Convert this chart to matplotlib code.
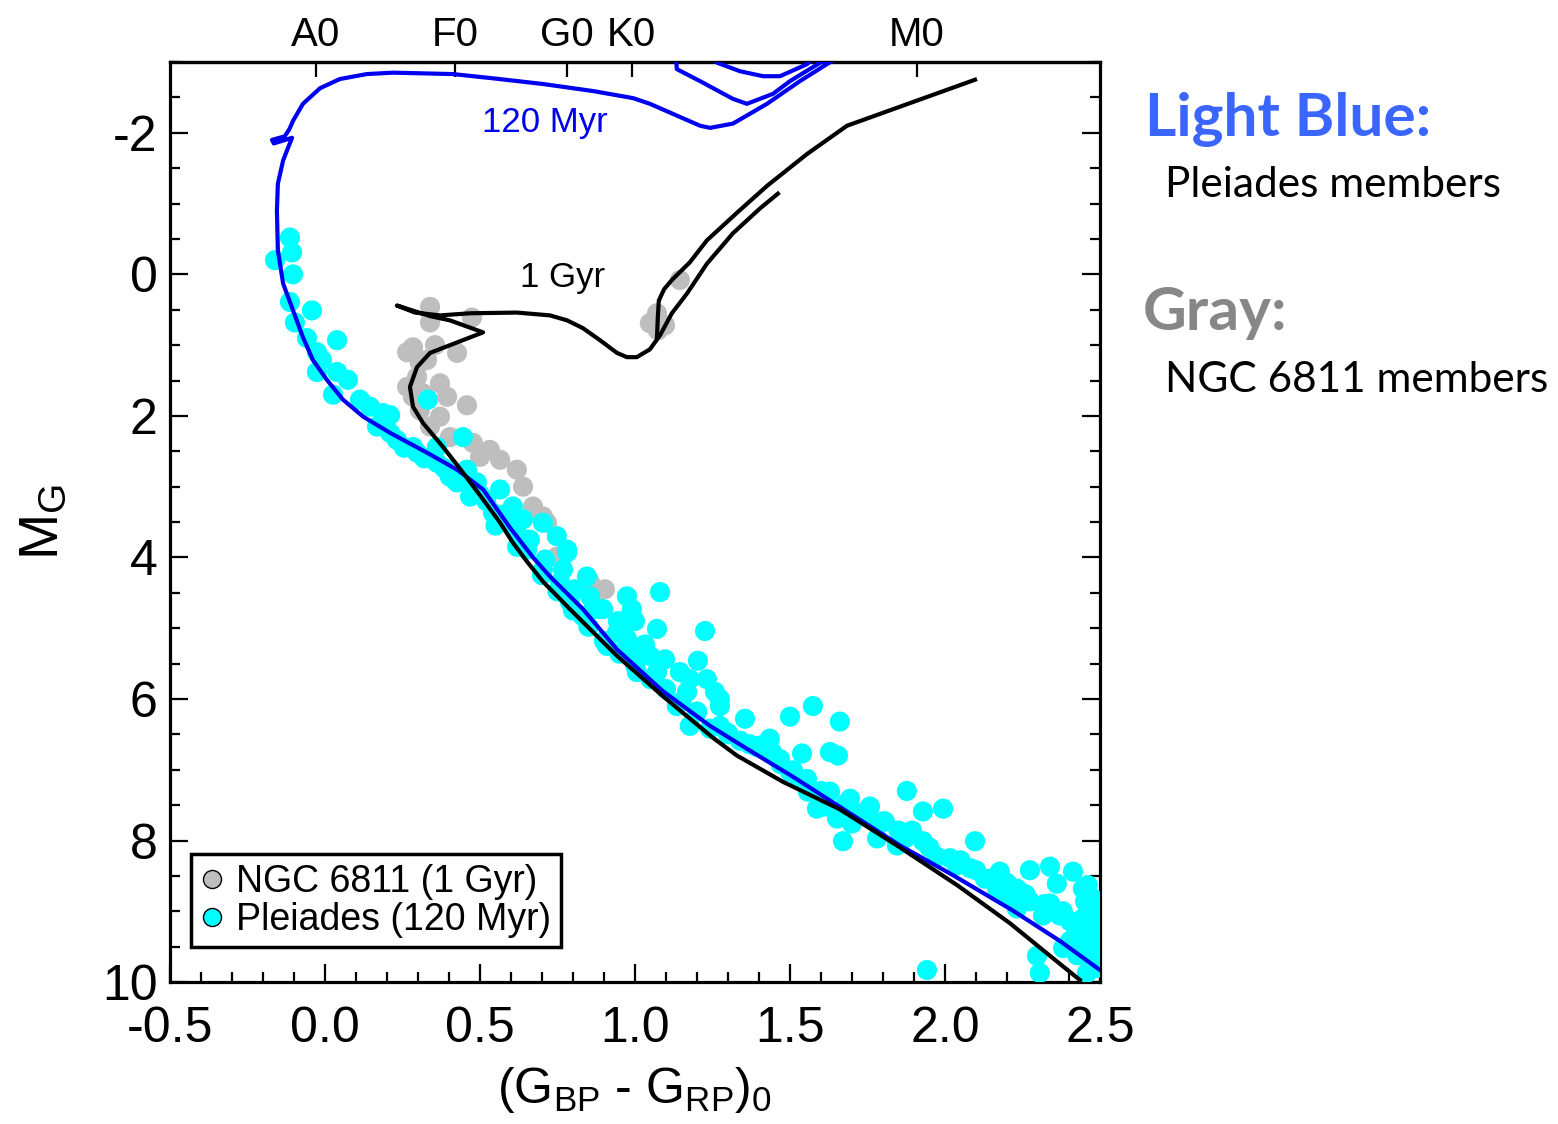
import matplotlib

matplotlib.use("Agg")

import matplotlib.pyplot as plt
import matplotlib.ticker as mticker
from matplotlib.lines import Line2D

plt.rcParams["font.family"] = ["Liberation Sans", "DejaVu Sans"]
plt.rcParams["mathtext.fontset"] = "custom"
plt.rcParams["mathtext.rm"] = "Liberation Sans"
plt.rcParams["mathtext.it"] = "Liberation Sans"
plt.rcParams["axes.unicode_minus"] = False

# 120 Myr isochrone (blue), from faint MS end up through the hook and giant loops
myr120_x = [2.50, 2.371, 2.219, 2.026, 1.855, 1.684, 1.510, 1.371, 1.242, 1.090, 0.942,
            0.832, 0.726, 0.671, 0.597, 0.510, 0.426, 0.329, 0.210, 0.123, 0.058, 0.006,
            -0.039, -0.071, -0.103, -0.135, -0.152, -0.155, -0.152, -0.135, -0.119, -0.106,
            -0.165, -0.171, -0.130, -0.115, -0.103, -0.071, -0.016, 0.048, 0.135, 0.219,
            0.413, 0.542, 0.703, 0.865, 0.994, 1.048, 1.210, 1.242, 1.316, 1.426, 1.532,
            1.619, 1.661, 1.597, 1.500, 1.445, 1.361, 1.316, 1.210, 1.135, 1.132, 1.210,
            1.265, 1.339, 1.413, 1.468, 1.555, 1.581]
myr120_y = [9.83, 9.42, 8.99, 8.49, 8.07, 7.59, 7.10, 6.73, 6.38, 5.89, 5.30,
            4.73, 4.27, 4.00, 3.58, 3.04, 2.76, 2.52, 2.24, 2.01, 1.77, 1.49,
            1.21, 0.89, 0.51, 0.13, -0.34, -0.90, -1.28, -1.61, -1.79, -1.93,
            -1.85, -1.90, -1.95, -2.05, -2.17, -2.41, -2.63, -2.76, -2.83, -2.85,
            -2.83, -2.77, -2.69, -2.59, -2.49, -2.41, -2.10, -2.07, -2.13, -2.41, -2.73,
            -2.97, -3.08, -2.99, -2.73, -2.55, -2.41, -2.48, -2.73, -2.90, -3.08, -3.30,
            -2.99, -2.87, -2.80, -2.80, -2.97, -3.08]

# 1 Gyr isochrone (black): MS -> turnoff -> subgiant -> RGB
gyr1_x = [2.435, 2.339, 2.210, 2.039, 1.845, 1.661, 1.477, 1.329, 1.252, 1.090, 0.942,
          0.790, 0.703, 0.652, 0.606, 0.565, 0.510, 0.445, 0.381, 0.316, 0.284, 0.274,
          0.297, 0.339, 0.445, 0.510, 0.403, 0.339, 0.232, 0.290, 0.371, 0.468, 0.619,
          0.726, 0.781, 0.832, 0.887, 0.942, 0.974, 1.006, 1.048, 1.081, 1.119, 1.168,
          1.232, 1.316, 1.403, 1.461]
gyr1_y = [9.97, 9.63, 9.17, 8.63, 8.07, 7.56, 7.17, 6.80, 6.55, 5.96, 5.39,
          4.73, 4.34, 4.06, 3.79, 3.51, 3.18, 2.80, 2.44, 2.10, 1.87, 1.59,
          1.31, 1.11, 0.93, 0.82, 0.65, 0.59, 0.44, 0.54, 0.58, 0.55, 0.54,
          0.58, 0.65, 0.76, 0.93, 1.11, 1.17, 1.17, 1.06, 0.86, 0.55, 0.27,
          -0.15, -0.58, -0.93, -1.14]
# 1 Gyr clump / AGB branch
gyr1_agb_x = [1.071, 1.074, 1.077, 1.094, 1.119, 1.177, 1.232, 1.329, 1.426, 1.555, 1.684, 2.097]
gyr1_agb_y = [0.89, 0.58, 0.37, 0.21, 0.08, -0.17, -0.48, -0.87, -1.25, -1.70, -2.10, -2.75]

# NGC 6811 members (gray)
ngc_x = [0.339, 0.339, 0.474, 0.284, 0.265, 0.355, 0.426, 0.329, 0.306, 0.297, 0.371,
         0.265, 0.284, 0.316, 0.394, 0.458, 0.371, 0.306, 0.339, 0.403, 0.477, 0.500,
         0.532, 0.565, 0.619, 0.639, 0.671, 0.703, 0.716, 0.748, 0.877, 0.903, 0.855,
         1.145, 1.071, 1.048, 1.097, 1.074]
ngc_y = [0.46, 0.68, 0.61, 1.03, 1.10, 1.00, 1.11, 1.21, 1.25, 1.45, 1.54,
         1.59, 1.73, 1.68, 1.73, 1.85, 2.01, 1.92, 2.15, 2.30, 2.38, 2.58,
         2.48, 2.62, 2.76, 3.00, 3.28, 3.42, 3.51, 3.99, 4.69, 4.45, 4.35,
         0.08, 0.55, 0.69, 0.72, 0.79]

# Pleiades members (cyan)
ple_x = [-0.113, -0.106, -0.161, -0.103, -0.113, -0.042, -0.097, -0.058, 0.039, -0.026,
         -0.010, -0.026, 0.039, 0.074, 0.026, 0.113, 0.145, 0.187, 0.210, 0.168,
         0.210, 0.232, 0.284, 0.332, 0.297, 0.361, 0.361, 0.445, 0.403, 0.458,
         0.426, 0.490, 0.468, 0.565, 0.542, 0.606, 0.639, 0.703, 0.748, 0.781,
         0.652, 0.703, 0.768, 0.845, 0.855, 0.790, 0.897, 0.832, 0.974, 1.081,
         0.984, 1.071, 0.974, 1.026, 1.226, 0.619, 0.781, 0.758, 0.865, 0.990,
         1.000, 0.945, 0.942, 0.910, 0.974, 1.023, 1.048, 1.071, 1.006, 1.203,
         1.145, 1.232, 1.258, 1.274, 1.168, 1.135, 1.200, 1.177, 1.242, 1.274,
         1.339, 1.403, 1.435, 1.468, 1.500, 1.574, 1.661, 1.539, 1.629, 1.655,
         1.510, 1.555, 1.629, 1.694, 1.758, 1.800, 1.671, 1.587, 1.652, 1.877,
         1.394, 1.442, 1.500, 1.532, 1.558, 1.613, 1.700, 1.806, 1.781, 1.894,
         1.929, 1.994, 1.845, 1.929, 1.974, 2.039, 2.097, 2.081, 2.145, 2.177,
         2.232, 2.274, 2.339, 2.361, 2.413, 2.445, 2.477, 2.274, 2.316, 2.371,
         2.403, 2.445, 2.477, 2.490, 2.490, 2.445, 2.403, 2.381, 2.426, 2.468,
         2.490, 2.297, 2.306, 2.458, 1.942, 2.232, 2.200, 2.168, 2.461, 1.726,
         1.790, 1.871, 2.016, 2.129, 2.210, 2.339, 2.468, 2.490, 2.452, 0.500,
         0.581, 0.661, 0.710, 0.806, 0.887, 0.952, 1.032, 1.097, 1.177, 1.274,
         1.355, 1.435, 0.255, 0.320, 0.385, 0.440, 0.520, 0.580, 1.300, 1.370,
         1.470, 1.600, 1.680, 1.750, 1.850, 1.950, 2.050, 2.100, 2.200, 2.260,
         2.320, 2.380, 2.420, 2.450, 2.480, 0.620, 0.700, 0.800, 0.900, 1.000,
         1.100, 1.200, 1.300, 0.470, 0.550, 0.750, 0.850, 0.950, 1.050, 1.150]
ple_y = [-0.52, -0.31, -0.20, 0.00, 0.39, 0.51, 0.68, 0.90, 0.93, 1.10,
         1.21, 1.38, 1.38, 1.49, 1.70, 1.77, 1.87, 1.96, 1.99, 2.15,
         2.24, 2.34, 2.44, 1.77, 2.52, 2.44, 2.66, 2.30, 2.86, 2.76,
         2.94, 2.94, 3.14, 3.04, 3.37, 3.28, 3.46, 3.51, 3.70, 3.89,
         3.89, 4.17, 4.17, 4.27, 4.55, 4.63, 4.73, 4.83, 4.55, 4.49,
         4.83, 5.01, 5.15, 5.25, 5.04, 3.65, 3.93, 4.35, 4.73, 4.73,
         4.90, 4.90, 5.06, 5.25, 5.30, 5.32, 5.39, 5.62, 5.62, 5.46,
         5.62, 5.72, 5.90, 6.10, 5.90, 6.10, 6.18, 6.38, 6.42, 6.38,
         6.59, 6.66, 6.75, 6.85, 6.25, 6.10, 6.32, 6.77, 6.75, 6.80,
         7.01, 7.13, 7.31, 7.41, 7.52, 7.73, 8.01, 7.55, 7.69, 7.30,
         6.68, 6.75, 7.03, 7.15, 7.31, 7.52, 7.76, 7.73, 7.97, 7.86,
         7.59, 7.55, 8.07, 8.01, 8.23, 8.35, 8.01, 8.39, 8.54, 8.44,
         8.68, 8.42, 8.37, 8.61, 8.44, 8.68, 8.82, 8.86, 9.06, 9.06,
         9.14, 9.10, 9.20, 9.34, 9.52, 9.38, 9.42, 9.52, 9.62, 9.70,
         9.80, 9.63, 9.87, 9.87, 9.83, 8.96, 8.77, 8.68, 8.63, 7.62,
         7.76, 7.97, 8.25, 8.54, 8.75, 8.89, 9.45, 9.01, 8.86, 3.11,
         3.39, 3.75, 4.03, 4.45, 4.73, 4.94, 5.23, 5.44, 5.72, 6.00,
         6.28, 6.56, 2.45, 2.60, 2.74, 2.88, 3.20, 3.50, 6.50, 6.64,
         6.92, 7.30, 7.48, 7.63, 7.86, 8.10, 8.28, 8.42, 8.60, 8.76,
         8.90, 9.00, 9.22, 9.28, 9.58, 3.85, 4.25, 4.75, 5.18, 5.52,
         5.86, 6.18, 6.48, 3.12, 3.55, 4.48, 4.98, 5.36, 5.72, 6.04]

spec_pos = [-0.03, 0.42, 0.78, 0.99, 1.91]
spec_labels = ["A0", "F0", "G0", "K0", "M0"]

CYAN = "#00FFFF"
GRAY = "#BEBEBE"

fig = plt.figure(figsize=(15.58, 11.24), dpi=100)
ax = fig.add_axes([0.1091, 0.1263, 0.5969, 0.8185])

ax.scatter(ngc_x, ngc_y, s=210, color=GRAY, edgecolors="none", zorder=2)
ax.scatter(ple_x, ple_y, s=210, color=CYAN, edgecolors="none", zorder=3)
ax.plot(myr120_x, myr120_y, color="#0000F0", lw=3, zorder=4, solid_joinstyle="round")
ax.plot(gyr1_x, gyr1_y, color="black", lw=3, zorder=5, solid_joinstyle="round")
ax.plot(gyr1_agb_x, gyr1_agb_y, color="black", lw=3, zorder=5, solid_joinstyle="round")

ax.text(0.71, -2.15, "120 Myr", color="#0000F0", fontsize=25, ha="center", va="center")
ax.text(0.765, 0.04, "1 Gyr", color="black", fontsize=25, ha="center", va="center")

ax.set_xlim(-0.5, 2.5)
ax.set_ylim(10, -3)

ax.xaxis.set_major_locator(mticker.MultipleLocator(0.5))
ax.xaxis.set_minor_locator(mticker.MultipleLocator(0.1))
ax.xaxis.set_major_formatter(mticker.FormatStrFormatter("%.1f"))
ax.yaxis.set_major_locator(mticker.MultipleLocator(2))
ax.yaxis.set_minor_locator(mticker.MultipleLocator(0.5))

ax.tick_params(which="both", direction="in", top=False, right=True, width=1.6)
ax.tick_params(which="major", length=13)
ax.tick_params(which="minor", length=7.5)
ax.tick_params(axis="x", which="major", labelsize=36, pad=17)
ax.tick_params(axis="y", which="major", labelsize=36, pad=9)
for sp in ax.spines.values():
    sp.set_linewidth(2.3)

sec = ax.secondary_xaxis("top")
sec.set_xticks(spec_pos, labels=spec_labels)
sec.xaxis.set_minor_locator(mticker.NullLocator())
sec.tick_params(direction="in", length=11, width=1.6, labelsize=29, pad=6)
sec.spines["top"].set_linewidth(2.3)

ax.set_xlabel(r"(G$_{\rm BP}$ - G$_{\rm RP}$)$_{\rm 0}$", fontsize=36)
ax.xaxis.set_label_coords(0.5, -0.09)
ax.set_ylabel(r"M$_{\rm G}$", fontsize=40)
ax.yaxis.set_label_coords(-0.107, 0.5)

handles = [
    Line2D([], [], ls="none", marker="o", ms=13, mfc=GRAY, mec="black", mew=1.0),
    Line2D([], [], ls="none", marker="o", ms=13, mfc=CYAN, mec="black", mew=1.0),
]
leg = ax.legend(handles, ["NGC 6811 (1 Gyr)", "Pleiades (120 Myr)"],
                loc="lower left", bbox_to_anchor=(0.023, 0.038), fontsize=27,
                frameon=True, fancybox=False, framealpha=1, edgecolor="black",
                handlelength=0.6, handletextpad=0.35, borderpad=0.25,
                labelspacing=0.05, borderaxespad=0)
leg.get_frame().set_linewidth(2.5)
leg.set_zorder(10)

side = ["Lato", "Liberation Sans", "DejaVu Sans"]
fig.text(0.7349, 0.879, "Light Blue:", color="#3A66FF", fontsize=43.5, fontweight="bold",
         family=side, va="baseline")
fig.text(0.7478, 0.8247, "Pleiades members", color="black", fontsize=30.5,
         family=side, va="baseline")
fig.text(0.7337, 0.7064, "Gray:", color="#878787", fontsize=43.5, fontweight="bold",
         family=side, va="baseline")
fig.text(0.7478, 0.6512, "NGC 6811 members", color="black", fontsize=30.5,
         family=side, va="baseline")

fig.savefig("out.png", dpi=100)
